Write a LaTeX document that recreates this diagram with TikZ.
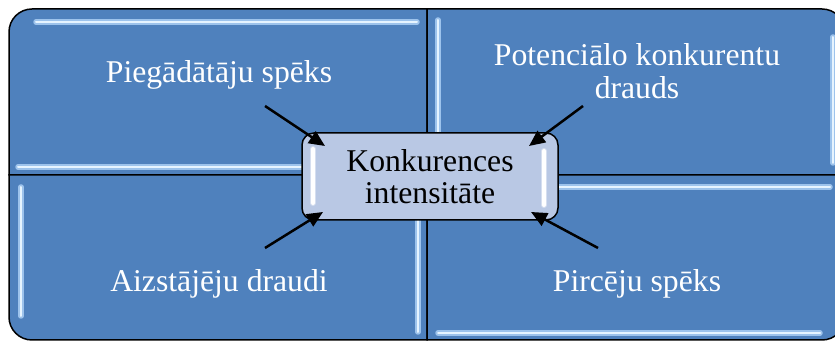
\documentclass[tikz,border=0pt]{standalone}
\usepackage{fontspec}
\setmainfont{Liberation Serif}
\usetikzlibrary{arrows.meta}
\definecolor{quad}{HTML}{4F81BD}
\definecolor{hlout}{HTML}{9DC3EC}
\definecolor{hlin}{HTML}{E6F4FF}
\definecolor{cbox}{HTML}{B9C8E4}
\tikzset{
  quadrant/.style={fill=quad, draw=black, line width=1.5pt},
  bar/.style={line cap=round, line width=2pt, draw=hlin,
    preaction={draw=hlout, line width=5.5pt, line cap=round}},
  cbar/.style={line cap=round, line width=4pt, draw=white,
    preaction={draw=cbox!60!white, line width=6pt, line cap=round}},
  lbl/.style={text=white, font=\fontsize{31.7}{33}\selectfont, inner sep=0pt, align=center},
  centerbox/.style={fill=cbox, draw=black, line width=1.5pt, rounded corners=12pt,
    minimum width=256pt, minimum height=87pt, inner sep=0pt, align=center,
    font=\fontsize{31.7}{31.7}\selectfont},
  arr/.style={-{Triangle[length=16pt,width=14pt]}, line width=2.5pt, draw=black},
}
\begin{document}
\begin{tikzpicture}[x=1pt,y=1pt]
\useasboundingbox (0,0) rectangle (835,342);
\clip (0,0) rectangle (835,342);
% quadrants
\draw[quadrant] (427,167) -- (9,167) -- (9,310) arc[start angle=180,end angle=90,radius=23] -- (427,333) -- cycle;
\draw[quadrant] (427,167) -- (427,333) -- (822,333) arc[start angle=90,end angle=0,radius=23] -- (845,167) -- cycle;
\draw[quadrant] (427,167) -- (9,167) -- (9,25) arc[start angle=180,end angle=270,radius=23] -- (427,2) -- cycle;
\draw[quadrant] (427,167) -- (427,2) -- (822,2) arc[start angle=270,end angle=360,radius=23] -- (845,167) -- cycle;
% bevel highlights
\draw[bar] (36,320) -- (417,320);
\draw[bar] (18,175) -- (417,175);
\draw[bar] (438,322) -- (438,178);
\draw[bar] (833,305) -- (833,179);
\draw[bar] (21,155) -- (21,26);
\draw[bar] (418,157) -- (418,10);
\draw[bar] (438,155) -- (830,155);
\draw[bar] (438,9) -- (820,9);
% labels
\node[lbl, anchor=base] (pieg) at (219,259) {Piegādātāju spēks};
\node[lbl, anchor=north] (pot) at (637,299) {Potenciālo konkurentu\\drauds};
\node[lbl, anchor=base] (aiz) at (219,50) {Aizstājēju draudi};
\node[lbl, anchor=base] (pirc) at (637,50) {Pircēju spēks};
% center
\node[centerbox] (c) at (430,165.5) {Konkurences\\intensitāte};
\draw[cbar] (313,193) -- (313,139);
\draw[cbar] (544,191) -- (544,137);
% arrows
\coordinate (a1) at (265,236); \coordinate (t1) at (325,196);
\coordinate (a2) at (583,236); \coordinate (t2) at (529,196);
\coordinate (a3) at (265,94);  \coordinate (t3) at (323,130);
\coordinate (a4) at (598,94);  \coordinate (t4) at (531,130);
\draw[arr] (a1) -- (t1);
\draw[arr] (a2) -- (t2);
\draw[arr] (a3) -- (t3);
\draw[arr] (a4) -- (t4);
\end{tikzpicture}
\end{document}
